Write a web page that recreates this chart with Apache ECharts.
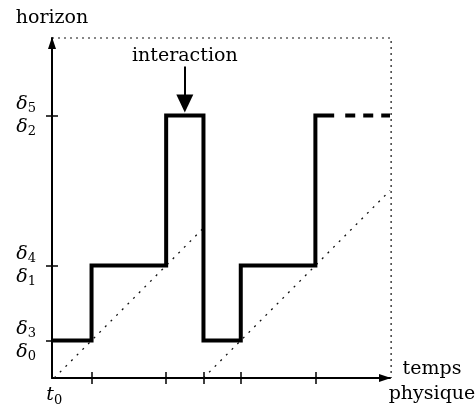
<!DOCTYPE html>
<html><head><meta charset="utf-8">
<script src="https://cdn.jsdelivr.net/npm/echarts@6/dist/echarts.min.js"></script>
<style>html,body{margin:0;padding:0;background:#fff}#c{width:475px;height:416px}</style>
</head><body><div id="c"></div>
<script>
// ---- data ----
const xTicks = [1, 3, 4, 5, 7];
const yTicks = [1, 3, 7];
const yLabelTop = ['3', '4', '5'];     // δ subscripts, upper line
const yLabelBottom = ['0', '1', '2'];  // δ subscripts, lower line
const stepX = [0, 1, 1, 3, 3, 4, 4, 5, 5, 7, 7, 7.45];
const stepY = [1, 1, 3, 3, 7, 7, 1, 1, 3, 3, 7, 7];
const tailX = [7.8, 9];
const tailY = [7, 7];
const diag1X = [0, 4], diag1Y = [0, 4];
const diag2X = [4, 9], diag2Y = [0, 5];
const frameX = [-0.06, 9.03, 9.03], frameY = [9.07, 9.07, 0];
const arrowX = 3.5, arrowFrom = 8.31, arrowTo = 7.32;
const X_MIN = -0.06, X_MAX = 9, Y_MIN = 0, Y_MAX = 9.07;

const zip = (a, b) => a.map((v, i) => [v, b[i]]);
const SERIF = 'DejaVu Serif';
const rich = {
  d: { fontFamily: SERIF, fontStyle: 'italic', fontSize: 19, lineHeight: 23, color: '#000' },
  s: { fontFamily: SERIF, fontSize: 13, lineHeight: 11, verticalAlign: 'bottom', color: '#000' }
};

const chart = echarts.init(document.getElementById('c'), null, { renderer: 'canvas' });
chart.setOption({
  animation: false,
  backgroundColor: '#fff',
  grid: { left: 52, right: 85, top: 38, bottom: 38, containLabel: false, outerBoundsMode: 'none' },
  xAxis: [{
    type: 'value', min: X_MIN, max: X_MAX, position: 'bottom',
    name: '{g| }\n{n|temps}\n{n|physique}', nameLocation: 'end', nameGap: 42,
    nameTextStyle: { fontFamily: SERIF, fontSize: 19, color: '#000', align: 'center', verticalAlign: 'middle',
      rich: {
        g: { fontSize: 1, lineHeight: 8 },
        n: { fontFamily: SERIF, fontSize: 19, lineHeight: 25, color: '#000', align: 'center' }
      } },
    axisLine: { show: true, onZero: false, symbol: ['none', 'triangle'], symbolSize: [8, 12], symbolOffset: [0, -5], lineStyle: { color: '#000', width: 2 } },
    axisTick: { show: true, customValues: xTicks, length: 6, lineStyle: { color: '#000', width: 1.5 } },
    axisLabel: { show: true, customValues: [0], margin: 6, formatter: () => '{d|t}{s|0}', rich: rich },
    splitLine: { show: false }
  }, {
    type: 'value', min: X_MIN, max: X_MAX, position: 'bottom',
    axisLine: { show: false, onZero: false },
    axisTick: { show: true, inside: true, customValues: xTicks, length: 6, lineStyle: { color: '#000', width: 1.5 } },
    axisLabel: { show: false }, splitLine: { show: false }
  }],
  yAxis: [{
    type: 'value', min: Y_MIN, max: Y_MAX, position: 'left',
    name: 'horizon', nameLocation: 'end', nameGap: 10,
    nameTextStyle: { fontFamily: SERIF, fontSize: 19, color: '#000', align: 'center' },
    axisLine: { show: true, onZero: false, symbol: ['none', 'triangle'], symbolSize: [8, 12], symbolOffset: [0, -5], lineStyle: { color: '#000', width: 2 } },
    axisTick: { show: true, customValues: yTicks, length: 6, lineStyle: { color: '#000', width: 1.5 } },
    axisLabel: {
      show: true, customValues: yTicks, margin: 16,
      formatter: (v) => { const i = yTicks.indexOf(v); return '{d|δ}{s|' + yLabelTop[i] + '}\n{d|δ}{s|' + yLabelBottom[i] + '}'; },
      rich: rich
    },
    splitLine: { show: false }
  }, {
    type: 'value', min: Y_MIN, max: Y_MAX, position: 'left',
    axisLine: { show: false, onZero: false },
    axisTick: { show: true, inside: true, customValues: yTicks, length: 6, lineStyle: { color: '#000', width: 1.5 } },
    axisLabel: { show: false }, splitLine: { show: false }
  }],
  series: [
    { type: 'line', data: zip(frameX, frameY), showSymbol: false, clip: false, silent: true,
      lineStyle: { color: '#111', width: 1.2, type: [2, 4] } },
    { type: 'line', data: zip(diag1X, diag1Y), showSymbol: false, silent: true,
      lineStyle: { color: '#111', width: 1.3, type: [2, 6] } },
    { type: 'line', data: zip(diag2X, diag2Y), showSymbol: false, silent: true,
      lineStyle: { color: '#111', width: 1.3, type: [2, 6] } },
    { type: 'line', data: zip(stepX, stepY), showSymbol: false, silent: true,
      lineStyle: { color: '#000', width: 4, join: 'miter', cap: 'square' },
      markLine: {
        silent: true, symbol: ['none', 'triangle'], symbolSize: [17, 18],
        lineStyle: { color: '#000', width: 2, type: 'solid' },
        label: { show: true, position: 'start', distance: 1, formatter: 'interaction',
          fontFamily: SERIF, fontSize: 19, color: '#000' },
        data: [[{ coord: [arrowX, arrowFrom] }, { coord: [arrowX, arrowTo] }]]
      } },
    { type: 'line', data: zip(tailX, tailY), showSymbol: false, silent: true,
      lineStyle: { color: '#000', width: 4, type: [10, 8] } }
  ]
});
</script></body></html>
